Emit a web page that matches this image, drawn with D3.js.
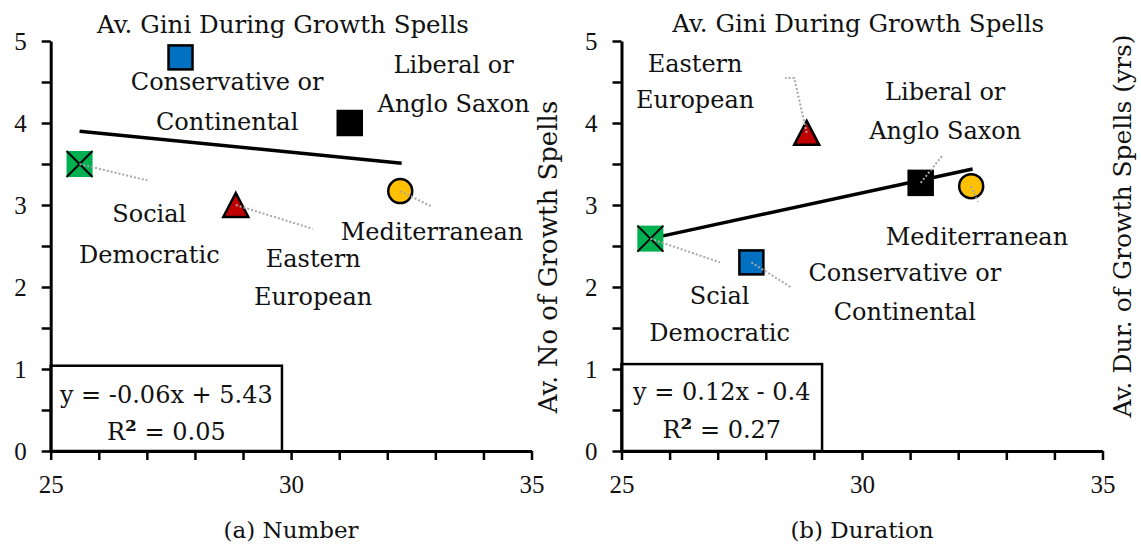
<!DOCTYPE html>
<html><head><meta charset="utf-8">
<script src="https://cdn.jsdelivr.net/npm/d3@7"></script>
<style>body{margin:0;background:#fff}svg{display:block}</style>
</head><body><svg id="c" width="1141" height="544"></svg>
<script>
// ---------- data ----------
const regimes = ["Social Democratic", "Conservative or Continental", "Eastern European", "Liberal or Anglo Saxon", "Mediterranean"];
const avGini = [25.6, 27.7, 28.85, 31.22, 32.27];
const avNumber = [3.5, 4.8, 3.0, 4.0, 3.17];
const avDuration = [2.59, 2.3, 3.88, 3.27, 3.23];
const xTickLabels = [25, 30, 35];
const yTickLabels = [0, 1, 2, 3, 4, 5];
const trendX = [25.6, 32.3];
const trendNumberY = [3.9, 3.51];
const trendDurationY = [2.59, 3.44];
const eqNumber = ["y = -0.06x + 5.43", "R² = 0.05"];
const eqDuration = ["y = 0.12x - 0.4", "R² = 0.27"];
const titleText = "Av. Gini During Growth Spells";
const yLabelNumber = "Av. No of Growth Spells";
const yLabelDuration = "Av. Dur. of Growth Spells (yrs)";
const captions = ["(a) Number", "(b) Duration"];
const labelsNumber = [["Social", "Democratic"], ["Conservative or", "Continental"], ["Eastern", "European"], ["Liberal or", "Anglo Saxon"], ["Mediterranean"]];
const labelsDuration = [["Scial", "Democratic"], ["Conservative or", "Continental"], ["Eastern", "European"], ["Liberal or", "Anglo Saxon"], ["Mediterranean"]];

// ---------- styling / layout ----------
const shapes = ["xsquare", "square", "triangle", "square", "circle"];
const colors = ["#00B050", "#0070C0", "#C00000", "#000000", "#FFC000"];
const FONT = "DejaVu Serif";
const NUMFONT = "Liberation Serif";

// annotation placement (data units)
const annNumber = [
  {x: 27.05, ys: [2.90, 2.40], lead: [[27.01, 3.30]]},
  {x: 28.67, ys: [4.51, 4.02], lead: []},
  {x: 30.46, ys: [2.35, 1.88], lead: [[30.45, 2.71]]},
  {x: 33.38, ys: [4.71, 4.24], lead: []},
  {x: 32.93, ys: [2.67], lead: [[32.93, 2.98]]}
];
const annDuration = [
  {x: 27.04, ys: [1.90, 1.44], lead: [[27.05, 2.30]]},
  {x: 30.89, ys: [2.18, 1.70], lead: [[28.54, 1.99]]},
  {x: 26.53, ys: [4.73, 4.28], lead: [[28.59, 4.55], [28.40, 4.55]]},
  {x: 31.73, ys: [4.38, 3.91], lead: [[31.68, 3.61]]},
  {x: 32.39, ys: [2.61], lead: [[32.41, 3.04]]}
];

const svg = d3.select("#c");

function panel(opt) {
  const x = d3.scaleLinear().domain([25, 35]).range([opt.x0, opt.x1]);
  const y = d3.scaleLinear().domain([0, 5]).range([451, 41]);
  const g = svg.append("g");

  // equation box
  g.append("rect")
    .attr("x", x(25)).attr("y", y(opt.boxTop))
    .attr("width", x(opt.boxRight) - x(25)).attr("height", y(0) - y(opt.boxTop))
    .attr("fill", "#fff").attr("stroke", "#000").attr("stroke-width", 2.5);
  opt.eq.forEach((t, i) => {
    const te = g.append("text").attr("x", (x(25) + x(opt.boxRight)) / 2).attr("y", [opt.eqY1, opt.eqY2][i])
      .attr("dy", "0.35em").attr("text-anchor", "middle")
      .attr("font-family", FONT).attr("font-size", 24).attr("fill", "#111");
    const parts = t.split("²");
    te.append("tspan").text(parts[0]);
    if (parts.length > 1) {
      te.append("tspan").attr("font-weight", "bold").attr("font-size", 27).text("²");
      te.append("tspan").text(parts[1]);
    }
  });

  // axes
  const ya = d3.axisLeft(y).tickValues(d3.range(0, 5.01, 0.5)).tickSize(9).tickSizeOuter(0)
    .tickFormat(d => yTickLabels.includes(d) ? d : "");
  const yg = g.append("g").attr("transform", `translate(${x(25)},0)`).call(ya);
  const xa = d3.axisBottom(x).tickValues(d3.range(25, 35.01, 1)).tickSize(9).tickSizeOuter(0)
    .tickFormat(d => xTickLabels.includes(d) ? d : "");
  const xg = g.append("g").attr("transform", `translate(0,${y(0)})`).call(xa);
  [yg, xg].forEach(a => {
    a.select(".domain").attr("stroke", "#000").attr("stroke-width", 3);
    a.selectAll(".tick line").attr("stroke", "#000").attr("stroke-width", 2.5);
    a.selectAll(".tick text").attr("font-family", NUMFONT).attr("font-size", 25).attr("fill", "#111");
  });
  yg.selectAll(".tick text").attr("x", -24).attr("dy", "0.35em");
  xg.selectAll(".tick text").attr("y", 33).attr("dy", "0.35em");

  // trend line
  g.append("line")
    .attr("x1", x(trendX[0])).attr("y1", y(opt.trendY[0]))
    .attr("x2", x(trendX[1])).attr("y2", y(opt.trendY[1]))
    .attr("stroke", "#000").attr("stroke-width", 3.5);

  // markers
  const s = 26;
  avGini.forEach((gv, i) => {
    const cx = x(gv), cy = y(opt.vals[i]);
    const sh = shapes[i];
    if (sh === "square") {
      g.append("rect").attr("x", cx - s / 2 + 1).attr("y", cy - s / 2 + 1).attr("width", s - 2).attr("height", s - 2)
        .attr("fill", colors[i]).attr("stroke", "#000").attr("stroke-width", 2.5);
    } else if (sh === "xsquare") {
      g.append("rect").attr("x", cx - s / 2).attr("y", cy - s / 2).attr("width", s).attr("height", s)
        .attr("fill", colors[i]);
      g.append("path").attr("d", `M${cx - s / 2},${cy - s / 2}L${cx + s / 2},${cy + s / 2}M${cx + s / 2},${cy - s / 2}L${cx - s / 2},${cy + s / 2}`)
        .attr("stroke", "#000").attr("stroke-width", 2);
    } else if (sh === "triangle") {
      g.append("path").attr("d", `M${cx},${cy - 12}L${cx + 12.5},${cy + 12}L${cx - 12.5},${cy + 12}Z`)
        .attr("fill", colors[i]).attr("stroke", "#000").attr("stroke-width", 2.5).attr("stroke-linejoin", "miter");
    } else {
      g.append("circle").attr("cx", cx).attr("cy", cy).attr("r", 12)
        .attr("fill", colors[i]).attr("stroke", "#000").attr("stroke-width", 2.5);
    }
  });

  // leader lines + labels
  opt.ann.forEach((a, i) => {
    if (a.lead.length) {
      const pts = [[avGini[i], opt.vals[i]]].concat(a.lead).map(p => [x(p[0]), y(p[1])]);
      g.append("path").attr("d", d3.line()(pts)).attr("fill", "none")
        .attr("stroke", "#a8a8a8").attr("stroke-width", 2).attr("stroke-dasharray", "2,2");
    }
    opt.labels[i].forEach((t, j) => {
      g.append("text").attr("x", x(a.x)).attr("y", y(a.ys[j])).attr("dy", "0.35em")
        .attr("text-anchor", "middle").attr("font-family", FONT).attr("font-size", 24)
        .attr("fill", "#111").text(t);
    });
  });

  // title
  g.append("text").attr("x", x(opt.titleX)).attr("y", y(opt.titleY)).attr("dy", "0.35em")
    .attr("text-anchor", "middle").attr("font-family", FONT).attr("font-size", 24.5).attr("fill", "#111").text(titleText);

  // y label (right side)
  g.append("text").attr("transform", `translate(${opt.ylabX},${opt.ylabY}) rotate(-90)`).attr("dy", "0.35em")
    .attr("text-anchor", "middle").attr("font-family", FONT).attr("font-size", opt.ylabSize).attr("fill", "#111").text(opt.ylab);

  // caption
  g.append("text").attr("x", x(30)).attr("y", 538)
    .attr("text-anchor", "middle").attr("font-family", FONT).attr("font-size", 23).attr("fill", "#111").text(opt.caption);
}

panel({x0: 50.7, x1: 531.5, vals: avNumber, trendY: trendNumberY, eq: eqNumber, boxTop: 1.04, boxRight: 29.81,
  eqY1: 395, eqY2: 432, ann: annNumber, labels: labelsNumber, titleX: 29.83, titleY: 5.2,
  ylab: yLabelNumber, ylabX: 548, ylabY: 257, ylabSize: 26, caption: captions[0]});
panel({x0: 621.5, x1: 1102.5, vals: avDuration, trendY: trendDurationY, eq: eqDuration, boxTop: 1.06, boxRight: 29.17,
  eqY1: 392, eqY2: 430, ann: annDuration, labels: labelsDuration, titleX: 29.92, titleY: 5.22,
  ylab: yLabelDuration, ylabX: 1122, ylabY: 226, ylabSize: 25, caption: captions[1]});
</script></body></html>
